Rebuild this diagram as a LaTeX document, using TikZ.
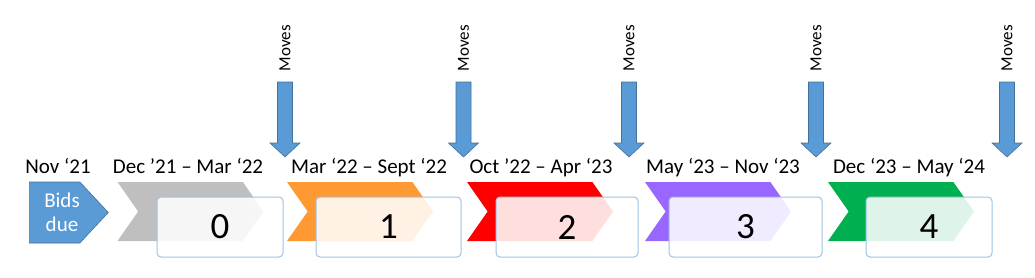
\documentclass[tikz,border=0pt]{standalone}
\usepackage{fontspec}
\setmainfont{Carlito}
\usetikzlibrary{shapes.symbols}

\definecolor{moveblue}{HTML}{5B9BD5}
\definecolor{moveedge}{HTML}{41719C}
\definecolor{boxedge}{HTML}{9DC3E6}
\definecolor{phasegray}{HTML}{BFBFBF}
\definecolor{phaseorange}{HTML}{FF9933}
\definecolor{phasered}{HTML}{FF0000}
\definecolor{phasepurple}{HTML}{9966FF}
\definecolor{phasegreen}{HTML}{00B050}

\begin{document}
\begin{tikzpicture}[
  x=1pt,y=-1pt,
  phase/.style={signal,signal from=west,signal to=east,signal pointer angle=110,
    inner sep=0pt,minimum width=146pt,minimum height=59pt,fill=#1},
  start/.style={signal,signal to=east,signal pointer angle=94,inner sep=0pt,
    minimum width=79pt,minimum height=61pt,fill=moveblue,draw=moveedge,line width=.6pt},
  starttext/.style={text=white,align=center,font=\fontsize{21}{24}\selectfont},
  window/.style={draw=boxedge,line width=1pt,rounded corners=4pt,fill=white,
    fill opacity=.87,text opacity=1,minimum height=60pt,inner sep=0pt,
    font=\fontsize{37}{40}\selectfont},
  date/.style={anchor=base,font=\fontsize{21}{24}\selectfont},
  move/.style={fill=moveblue,draw=moveedge,line width=.6pt,line join=miter},
  movetext/.style={rotate=90,font=\fontsize{17}{19}\selectfont}
]
  \useasboundingbox (0,0) rectangle (1035,278);

  \node[start,anchor=west] (bids) at (29,212.5) {};
  \node[starttext] (bidstext) at (62,212.5) {Bids\\due};
  \node[phase=phasegray] (p0) at (190.5,211.5) {};
  \node[phase=phaseorange] (p1) at (360,211.5) {};
  \node[phase=phasered] (p2) at (540,211.5) {};
  \node[phase=phasepurple] (p3) at (718,211.5) {};
  \node[phase=phasegreen] (p4) at (901,211.5) {};

  \node[window,minimum width=126pt] (w0) at (220,227) {0};
  \node[window,minimum width=145pt] (w1) at (388.5,227) {1};
  \node[window,minimum width=142pt] (w2) at (567,227) {2};
  \node[window,minimum width=153pt] (w3) at (745.5,227) {3};
  \node[window,minimum width=126pt] (w4) at (929,227) {4};

  \node[date] (d0) at (58,173) {Nov ‘21};
  \node[date] (d1) at (188,173) {Dec ’21 – Mar ‘22};
  \node[date] (d2) at (369,173) {Mar ‘22 – Sept ‘22};
  \node[date] (d3) at (541,173) {Oct ’22 – Apr ‘23};
  \node[date] (d4) at (723,173) {May ‘23 – Nov ‘23};
  \node[date] (d5) at (909,173) {Dec ‘23 – May ‘24};

  % block arrows under each "Moves"
  \foreach \x/\n in {285/1,463.5/2,629/3,816/4,1007/5} {
    \node[movetext] (t\n) at (\x,48) {Moves};
    \coordinate (m\n) at (\x,82);
    \filldraw[move] (m\n) ++(-7.5,0) -- ++(15,0) -- ++(0,61) -- ++(7.5,0)
      -- ++(-15,14) -- ++(-15,-14) -- ++(7.5,0) -- cycle;
  }
\end{tikzpicture}
\end{document}
